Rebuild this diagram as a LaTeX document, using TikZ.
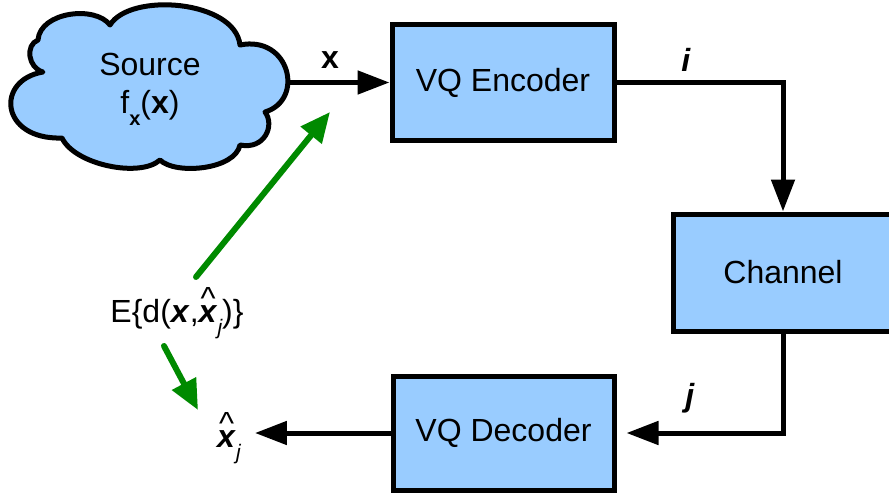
\documentclass[tikz,border=0pt]{standalone}
\usepackage{fontspec}
\setmainfont{Liberation Sans}
\usetikzlibrary{arrows.meta}
\definecolor{boxblue}{HTML}{99CCFF}
\definecolor{arrgreen}{HTML}{008A00}
\newcommand\myhatx{\leavevmode\setbox0\hbox{\textbf{\textit{x}}}\rlap{\hbox to \wd0{\hss\raisebox{0.41em}{\textasciicircum}\hss}}\box0}
\newcommand\mysubj{\raisebox{-0.38em}{\fontsize{21}{21}\selectfont\itshape j}}
\begin{document}
\begin{tikzpicture}[x=1pt,y=-1pt,
  every node/.style={font=\fontsize{32}{38}\selectfont},
  blockbox/.style={draw=black,line width=5pt,fill=boxblue,rectangle},
  arr/.style={line width=5pt,-{Triangle[length=32pt,width=23pt]}},
  garr/.style={draw=arrgreen,line width=6pt,line cap=round,-{Triangle[length=30pt,width=26pt]}},
  lbl/.style={inner sep=0pt}]
\useasboundingbox (0,0) rectangle (889,495);
% cloud outline
\draw[line width=5pt,fill=boxblue,line join=round]
  (38,40) .. controls (40,12) and (95,5) .. (110,25)
  .. controls (130,-8) and (235,0) .. (240,45)
  .. controls (290,35) and (305,100) .. (265,112)
  .. controls (275,125) and (265,150) .. (240,145)
  .. controls (235,170) and (175,175) .. (160,160)
  .. controls (140,178) and (75,165) .. (62,138)
  .. controls (0,140) and (-5,80) .. (43,72)
  .. controls (28,68) and (25,45) .. (38,40) -- cycle;
\node[align=center,inner sep=0pt] (src) at (150,89)
  {Source\\ f\raisebox{-12pt}{\fontsize{20}{20}\selectfont\bfseries x}(\textbf{x})};
\coordinate (cloudE) at (289,83);
\node[blockbox,minimum width=222,minimum height=115] (enc) at (503,82.5) {VQ Encoder};
\node[blockbox,minimum width=220,minimum height=117] (chan) at (783,272.5) {Channel};
\node[blockbox,minimum width=221,minimum height=114] (dec) at (503.5,433) {VQ Decoder};
\node[lbl] (lx) at (330,60) {\textbf{x}};
\node[lbl] (li) at (686,60) {\textbf{\textit{i}}};
\node[lbl] (lj) at (690,398) {\textbf{\textit{j}}};
\node[lbl] (xh) at (229,438) {\myhatx\mysubj};
\node[lbl] (el) at (177,313) {E\{d(\textbf{\textit{x}},\myhatx\mysubj)\}};
\draw[arr] (cloudE |- enc.west) -- (enc.west);
\draw[arr] (enc.east) -| (chan.north);
\draw[arr,shorten >=10pt] (chan.south) |- (dec.east);
\draw[arr,shorten >=14pt] (dec.west) -- (dec.west -| xh.east);
\coordinate (g1s) at (196,277);
\coordinate (g1e) at (330,112);
\coordinate (g2s) at (164,346);
\coordinate (g2e) at (198,410);
\draw[garr] (g1s) -- (g1e);
\draw[garr] (g2s) -- (g2e);
\end{tikzpicture}
\end{document}
